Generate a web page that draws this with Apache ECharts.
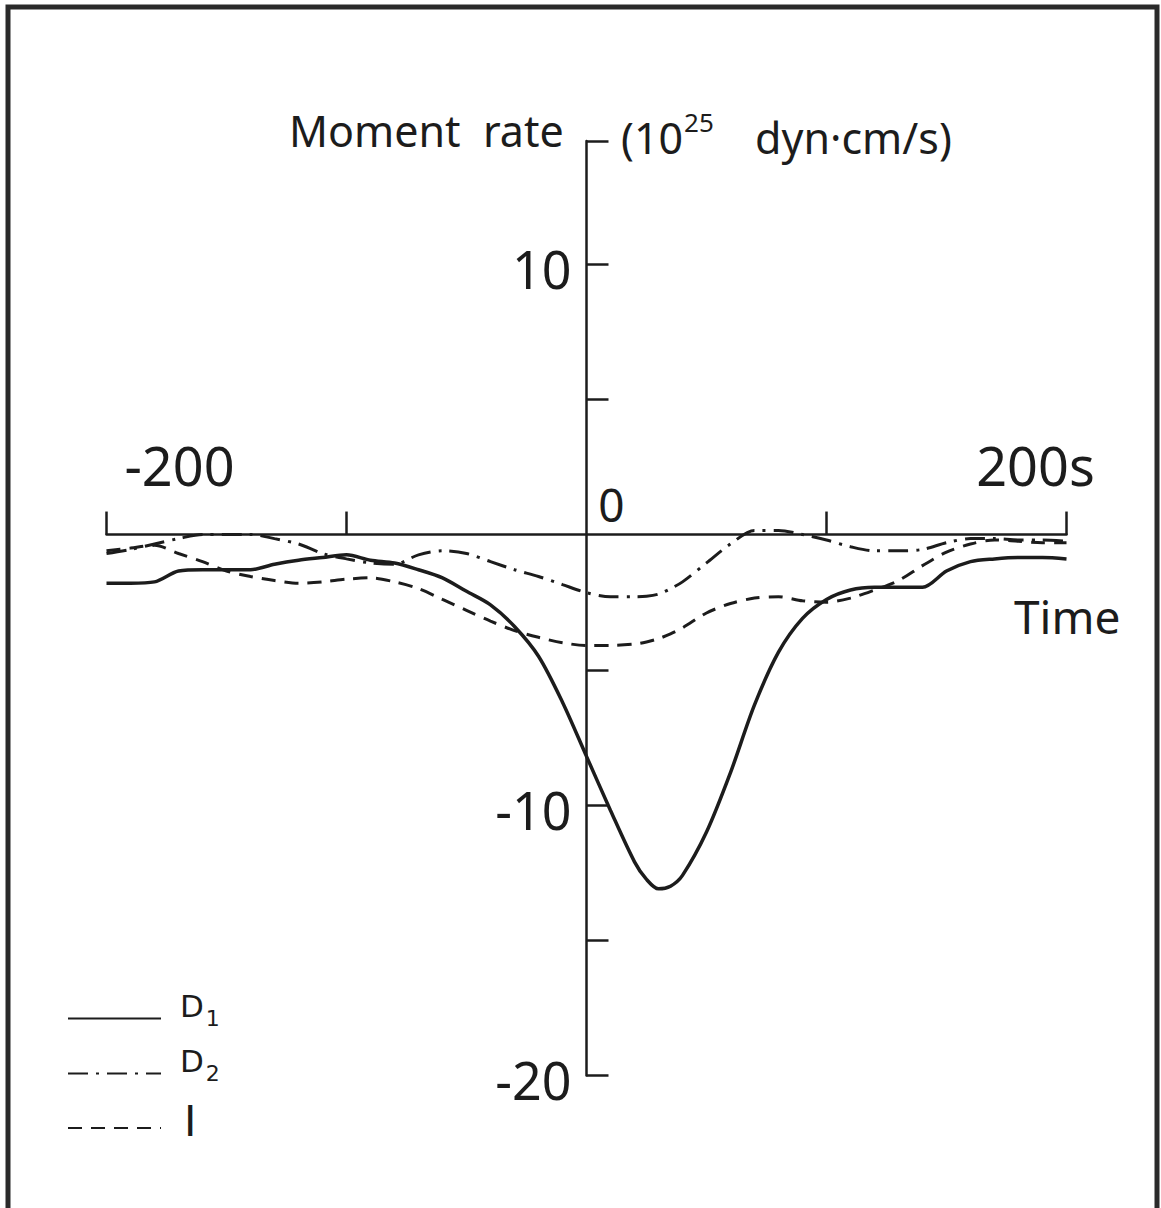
<!DOCTYPE html>
<html>
<head>
<meta charset="utf-8">
<script src="https://cdn.jsdelivr.net/npm/echarts@6/dist/echarts.min.js"></script>
<style>
html,body{margin:0;padding:0;background:#fff;}
#chart{width:1161px;height:1208px;}
</style>
</head>
<body>
<div id="chart"></div>
<script>
// ---- data ----
var times = [-200,-190,-180,-170,-160,-150,-140,-130,-120,-110,-100,-90,-80,-70,-60,-50,-40,-30,-20,-10,0,10,20,25,30,35,40,50,60,70,80,90,100,110,120,130,140,150,160,170,180,190,200];
var D1 = [-1.8,-1.8,-1.75,-1.35,-1.3,-1.3,-1.3,-1.1,-0.95,-0.85,-0.75,-0.95,-1.05,-1.3,-1.6,-2.1,-2.6,-3.4,-4.5,-6.2,-8.2,-10.2,-12.1,-12.75,-13.1,-13.0,-12.6,-11.0,-8.8,-6.3,-4.35,-3.1,-2.4,-2.05,-1.95,-1.95,-1.95,-1.35,-1.0,-0.9,-0.85,-0.85,-0.9];
var D2 = [-0.7,-0.55,-0.35,-0.15,0.0,0.0,0.0,-0.15,-0.35,-0.7,-0.9,-1.05,-1.1,-0.75,-0.6,-0.7,-1.0,-1.3,-1.55,-1.85,-2.15,-2.3,-2.3,-2.28,-2.2,-2.0,-1.75,-1.05,-0.35,0.15,0.15,0.0,-0.2,-0.45,-0.6,-0.6,-0.55,-0.3,-0.15,-0.15,-0.2,-0.2,-0.25];
var Iso = [-0.6,-0.5,-0.4,-0.7,-1.0,-1.35,-1.55,-1.7,-1.8,-1.75,-1.65,-1.6,-1.75,-2.0,-2.4,-2.8,-3.2,-3.55,-3.8,-4.0,-4.1,-4.1,-4.05,-3.97,-3.85,-3.67,-3.45,-2.9,-2.55,-2.35,-2.3,-2.45,-2.5,-2.35,-2.05,-1.7,-1.15,-0.65,-0.35,-0.2,-0.25,-0.3,-0.3];
var seriesNames = ['D1','D2','I'];
var xTickValues = [-200,-100,100,200];
var xLabelValues = [-200,0,200];
var xLabelTexts = ['-200','0','200s'];
var yTickValues = [-20,-15,-10,-5,5,10,14.55];
var yLabelValues = [-20,-10,10];
var yLabelTexts = ['-20','-10','10'];
var yTitle = 'Moment  rate';
var yUnitMain = '(10';
var yUnitExp = '25';
var yUnitRest = ' dyn·cm/s)';
var xTitle = 'Time';

function pairs(vals){ return times.map(function(t,i){ return [t, vals[i]]; }); }

var FONT = 'Noto Sans';
var INK = '#1c1c1c';

var chart = echarts.init(document.getElementById('chart'), null, {renderer:'svg'});
chart.setOption({
  animation:false,
  backgroundColor:'#ffffff',
  textStyle:{fontFamily:FONT, color:INK},
  title:[
    {text:yTitle, left:284, top:104, textStyle:{fontFamily:FONT, fontSize:43, fontWeight:'normal', color:INK}},
    {text:'{m|'+yUnitMain+'}{e|'+yUnitExp+'}{m|'+yUnitRest+'}', left:616, top:104,
     textStyle:{fontWeight:'normal', rich:{
       m:{fontFamily:FONT, fontSize:43, fontWeight:'normal', color:INK, verticalAlign:'bottom'},
       e:{fontFamily:FONT, fontSize:26, fontWeight:'normal', color:INK, padding:[0,30,24,1], verticalAlign:'bottom'}
     }}},
    {text:xTitle, left:1009, top:588, textStyle:{fontFamily:FONT, fontSize:46, fontWeight:'normal', color:INK}}
  ],
  grid:{left:106.5, right:94.5, top:141, bottom:132.5, containLabel:false},
  xAxis:{
    type:'value', min:-200, max:200, interval:100,
    axisLine:{onZero:true, lineStyle:{color:INK, width:2.5}},
    axisTick:{show:true, inside:true, length:23, customValues:xTickValues, lineStyle:{color:INK, width:2.5}},
    splitLine:{show:false},
    axisLabel:{show:false}
  },
  yAxis:{
    type:'value', min:-20, max:14.55,
    axisLine:{show:true, onZero:true, lineStyle:{color:INK, width:2.5}},
    axisTick:{show:true, inside:true, length:22, customValues:yTickValues, lineStyle:{color:INK, width:2.5}},
    splitLine:{show:false},
    axisLabel:{show:false}
  },
  legend:{
    orient:'vertical', left:62, top:985, itemWidth:93, itemHeight:14, itemGap:15.5,
    data:seriesNames,
    itemStyle:{opacity:0},
    formatter:function(n){
      if(n.length>1) return '{m|'+n.charAt(0)+'}{s|'+n.charAt(1)+'}';
      return '{i|'+n+'}';
    },
    textStyle:{rich:{
      m:{fontFamily:'DejaVu Sans', fontSize:31, color:INK, padding:[0,0,26,14]},
      s:{fontFamily:'DejaVu Sans', fontSize:22, color:INK, padding:[0,0,0,2]},
      i:{fontFamily:'DejaVu Sans', fontSize:42, color:INK, padding:[0,0,14,18]}
    }}
  },
  series:[
    {name:seriesNames[0], type:'line', data:pairs(D1), symbol:'none', smooth:0.3,
     lineStyle:{color:INK, width:3.5, type:'solid'}, itemStyle:{color:INK}},
    {name:seriesNames[1], type:'line', data:pairs(D2), symbol:'none', smooth:0.3,
     lineStyle:{color:INK, width:3, type:[20,8,3,8]}, itemStyle:{color:INK}},
    {name:seriesNames[2], type:'line', data:pairs(Iso), symbol:'none', smooth:0.3,
     lineStyle:{color:INK, width:3, type:[14,9]}, itemStyle:{color:INK}}
  ]
});

// tick labels placed at the axis positions given by the chart's own scales
var gfx = [
  {type:'rect', silent:true, z:-1, shape:{x:8, y:7, width:1149, height:1300}, style:{fill:'none', stroke:'#2a2a2a', lineWidth:5}}
];
var xLabelShift = {'-200':[73,-70,54], '0':[25,-31,46], '200':[-31,-70,54]};
xLabelValues.forEach(function(v,i){
  var p = chart.convertToPixel({gridIndex:0}, [v, 0]);
  var s = xLabelShift[String(v)];
  gfx.push({type:'text', silent:true, x:p[0]+s[0], y:p[1]+s[1],
    style:{text:xLabelTexts[i], fontFamily:FONT, fontSize:s[2], fill:INK, align:'center', verticalAlign:'middle'}});
});
yLabelValues.forEach(function(v,i){
  var p = chart.convertToPixel({gridIndex:0}, [0, v]);
  gfx.push({type:'text', silent:true, x:p[0]-15, y:p[1]+4,
    style:{text:yLabelTexts[i], fontFamily:FONT, fontSize:52, fill:INK, align:'right', verticalAlign:'middle'}});
});
chart.setOption({graphic:gfx});
</script>
</body>
</html>
